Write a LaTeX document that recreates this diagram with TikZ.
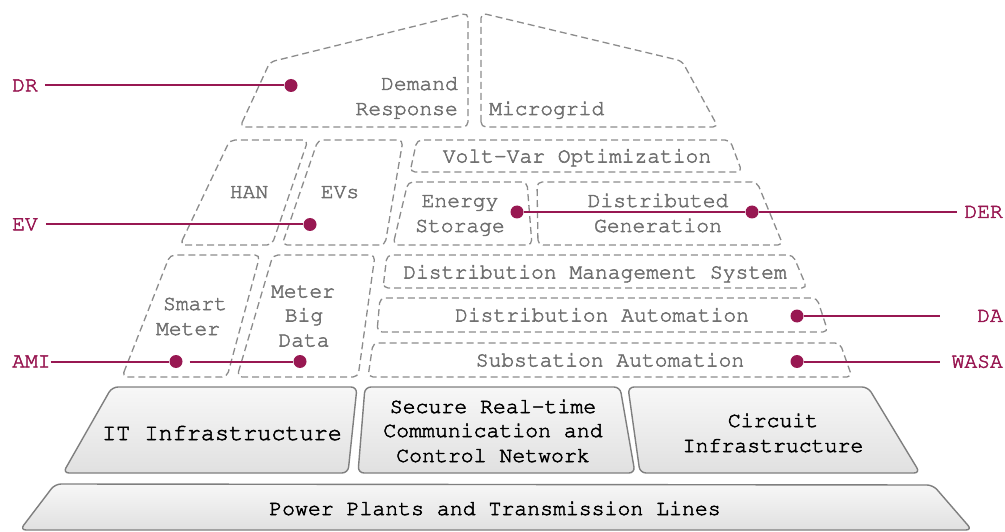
\documentclass[tikz,border=0pt]{standalone}
\usepackage[T1]{fontenc}
\usepackage{courier}
\definecolor{edge}{HTML}{8C8C8C}
\definecolor{ink}{HTML}{707070}
\definecolor{plum}{HTML}{981852}
\definecolor{frame}{HTML}{7F7F7F}
% slightly heavier glyphs: fill and stroke the text outlines
\newcommand\heavytext{\special{pdf:code 2 Tr 0.5 w}}
\begin{document}
\begin{tikzpicture}[x=1pt,y=-1pt,
  zone/.style={draw=edge, line width=1.3pt, dash pattern=on 7pt off 4pt, rounded corners=5pt},
  slab/.style={draw=frame, line width=1.4pt, rounded corners=6pt, top color=white!97!black, bottom color=white!88!black},
  txt/.style={font=\ttfamily\fontsize{21.3}{25}\selectfont\heavytext, text=ink, inner sep=0pt, anchor=base},
  btxt/.style={font=\ttfamily\fontsize{21.5}{25}\selectfont\heavytext, text=black, inner sep=0pt, anchor=base},
  tag/.style={font=\ttfamily\fontsize{21.3}{25}\selectfont\heavytext, text=plum, inner sep=0pt},
  dot/.style={circle, fill=plum, inner sep=0pt, minimum size=13pt},
  link/.style={draw=plum, line width=2pt},
]
\useasboundingbox (0,0) rectangle (1005,532);

% ---- foundation layers (solid, shaded) ----
\path[slab] (20,530) -- (55,484) -- (933,485) -- (972,530) -- cycle;
\path[slab] (63,473) -- (112,387) -- (357,387) -- (348,473) -- cycle;
\path[slab] (358,473) -- (365,387) -- (620,387) -- (635,473) -- cycle;
\path[slab] (640,473) -- (628,387) -- (868,387) -- (920,473) -- cycle;

\node[btxt] (pp) at (495,515) {Power Plants and Transmission Lines};
\node[btxt, font=\ttfamily\fontsize{23.5}{25}\selectfont\heavytext] (it) at (222,440) {IT Infrastructure};
\node[btxt] (sec1) at (493,413) {Secure Real-time};
\node[btxt] (sec2) at (493,437) {Communication and};
\node[btxt] (sec3) at (493,462) {Control Network};
\node[btxt] (ci1) at (773,427) {Circuit};
\node[btxt] (ci2) at (773,452) {Infrastructure};

% ---- application areas (dashed) ----
% top tier
\draw[zone] (240,127) -- (270,62) -- (468,13) -- (468,127) -- cycle;
\draw[zone] (481,127) -- (481,13) -- (682,61) -- (718,127) -- cycle;
% second tier
\draw[zone] (180,245) -- (230,140) -- (308,140) -- (272,245) -- cycle;
\draw[zone] (282,245) -- (318,140) -- (403,140) -- (385,245) -- cycle;
\draw[zone] (410,172) -- (417,140) -- (730,140) -- (742,172) -- cycle;
\draw[zone] (393,245) -- (408,182) -- (527,182) -- (532,245) -- cycle;
\draw[zone] (538,245) -- (537,182) -- (757,182) -- (783,245) -- cycle;
% third tier
\draw[zone] (122,377) -- (170,255) -- (260,255) -- (227,377) -- cycle;
\draw[zone] (237,377) -- (273,255) -- (375,255) -- (358,377) -- cycle;
\draw[zone] (383,288) -- (387,255) -- (793,255) -- (807,288) -- cycle;
\draw[zone] (377,332) -- (380,298) -- (817,298) -- (828,332) -- cycle;
\draw[zone] (368,377) -- (373,343) -- (840,343) -- (852,377) -- cycle;

\node[txt, anchor=base east] (dr1) at (458,90) {Demand};
\node[txt, anchor=base east] (dr2) at (458,115) {Response};
\node[txt, anchor=base west] (mg) at (489,115) {Microgrid};
\node[txt] (han) at (249,198) {HAN};
\node[txt] (evs) at (340,198) {EVs};
\node[txt] (vvo) at (577,162.5) {Volt-Var Optimization};
\node[txt] (es1) at (460,207) {Energy};
\node[txt] (es2) at (460,232) {Storage};
\node[txt] (dg1) at (658,207) {Distributed};
\node[txt] (dg2) at (658,232) {Generation};
\node[txt] (sm1) at (195,310) {Smart};
\node[txt] (sm2) at (188,335) {Meter};
\node[txt] (bd1) at (303,297.5) {Meter};
\node[txt] (bd2) at (304,321.5) {Big};
\node[txt] (bd3) at (304,346.5) {Data};
\node[txt] (dms) at (595,278.5) {Distribution Management System};
\node[txt] (da) at (602,321.5) {Distribution Automation};
\node[txt] (sa) at (610,366.5) {Substation Automation};

% ---- acronym callouts ----
\node[tag, anchor=west] (tDR) at (12,85.5) {DR};
\node[tag, anchor=west] (tEV) at (12,224.5) {EV};
\node[tag, anchor=west] (tAMI) at (12,361.5) {AMI};
\node[tag, anchor=east] (tDER) at (1003,212) {DER};
\node[tag, anchor=east] (tDA) at (1003,316) {DA};
\node[tag, anchor=east] (tWASA) at (1003,361.5) {WASA};

\node[dot] (dDR) at (291,85.5) {};
\node[dot] (dEV) at (310,224.5) {};
\node[dot] (dES) at (517,212) {};
\node[dot] (dDG) at (752,212) {};
\node[dot] (dSM) at (176,361.5) {};
\node[dot] (dBD) at (300,361.5) {};
\node[dot] (dDA) at (797,316) {};
\node[dot] (dWA) at (797,361.5) {};
\coordinate (eDA) at (940,316);
\coordinate (eWA) at (940,361.5);

\draw[link, shorten <=7pt] (tDR) -- (dDR);
\draw[link, shorten <=8pt] (tEV) -- (dEV);
\draw[link, shorten <=7pt] (tAMI) -- (dSM) -- (dBD);
\draw[link, shorten >=7pt] (dES) -- (dDG) -- (tDER);
\draw[link] (dDA) -- (eDA);
\draw[link] (dWA) -- (eWA);
\end{tikzpicture}
\end{document}
